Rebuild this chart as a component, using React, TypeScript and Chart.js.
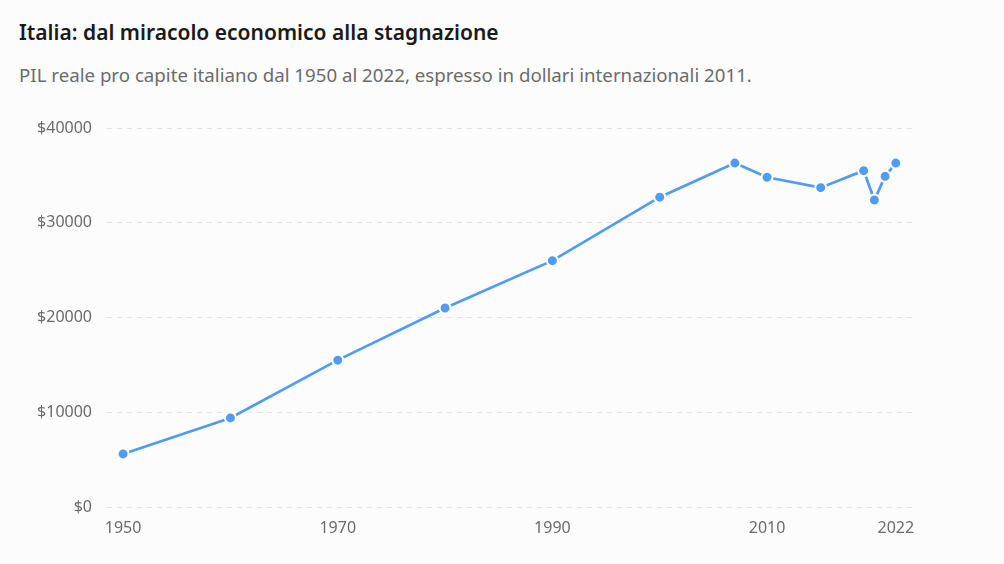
import React, { useEffect, useRef } from "react";
import { Chart, registerables } from "chart.js";

Chart.register(...registerables);

const years = [1950, 1960, 1970, 1980, 1990, 2000, 2007, 2010, 2015, 2019, 2020, 2021, 2022];
const gdpPerCapita = [5600, 9400, 15500, 21000, 26000, 32700, 36300, 34800, 33700, 35500, 32400, 34900, 36300];
const xTickYears = [1950, 1970, 1990, 2010, 2022];
const yTickValues = [0, 10000, 20000, 30000, 40000];

const TITLE = "Italia: dal miracolo economico alla stagnazione";
const SUBTITLE = "PIL reale pro capite italiano dal 1950 al 2022, espresso in dollari internazionali 2011.";

const FONT = "'Noto Sans', 'Open Sans', sans-serif";

export default function App() {
  const canvasRef = useRef<HTMLCanvasElement | null>(null);

  useEffect(() => {
    document.body.style.margin = "0";
    document.body.style.background = "#fcfcfc";
    const canvas = canvasRef.current;
    if (!canvas) return;
    const chart = new Chart(canvas, {
      type: "line",
      data: {
        datasets: [
          {
            data: years.map((y, i) => ({ x: y, y: gdpPerCapita[i] })),
            borderColor: "#4f9cf7",
            backgroundColor: "#4f9cf7",
            borderWidth: 2.75,
            pointRadius: 5.5,
            pointBorderColor: "#ffffff",
            pointBorderWidth: 2,
            pointBackgroundColor: "#4f9cf7",
            tension: 0,
          },
        ],
      },
      options: {
        animation: false,
        responsive: false,
        maintainAspectRatio: false,
        layout: { padding: { top: 128, right: 91, bottom: 0, left: 0 } },
        plugins: {
          legend: { display: false },
          title: { display: false },
          tooltip: { enabled: false },
        },
        scales: {
          x: {
            type: "linear",
            min: 1948.5,
            max: 2023.6,
            border: { display: false },
            grid: { display: false, drawTicks: false },
            afterBuildTicks: (scale: any) => {
              scale.ticks = xTickYears.map((v) => ({ value: v }));
            },
            afterFit: (scale: any) => {
              scale.height = 57;
            },
            ticks: {
              padding: 12,
              color: "#6b6b6b",
              font: { family: FONT, size: 16 },
              maxRotation: 0,
              autoSkip: false,
              callback: (v: any) => String(v),
            },
          },
          y: {
            min: 0,
            max: 40000,
            border: { display: false, dash: [5, 5] },
            grid: { color: "#e3e3e3", lineWidth: 1, drawTicks: false },
            afterBuildTicks: (scale: any) => {
              scale.ticks = yTickValues.map((v) => ({ value: v }));
            },
            afterFit: (scale: any) => {
              scale.width = 107;
            },
            ticks: {
              padding: 15,
              color: "#6b6b6b",
              font: { family: FONT, size: 16 },
              callback: (v: any) => "$" + v,
            },
          },
        },
      },
    });
    return () => chart.destroy();
  }, []);

  return (
    <div style={{ position: "relative", width: 1004, height: 564, background: "#fcfcfc", overflow: "hidden" }}>
      <div
        style={{
          position: "absolute",
          left: 19,
          top: 17,
          fontFamily: FONT,
          fontSize: 21,
          fontWeight: 600,
          color: "#1a1a1a",
          whiteSpace: "nowrap",
          lineHeight: "30px",
        }}
      >
        {TITLE}
      </div>
      <div
        style={{
          position: "absolute",
          left: 19,
          top: 60,
          fontFamily: FONT,
          fontSize: 18.7,
          color: "#6b6b6b",
          whiteSpace: "nowrap",
          lineHeight: "30px",
        }}
      >
        {SUBTITLE}
      </div>
      <canvas ref={canvasRef} width={1004} height={564} style={{ position: "absolute", left: 0, top: 0, width: 1004, height: 564 }} />
    </div>
  );
}
